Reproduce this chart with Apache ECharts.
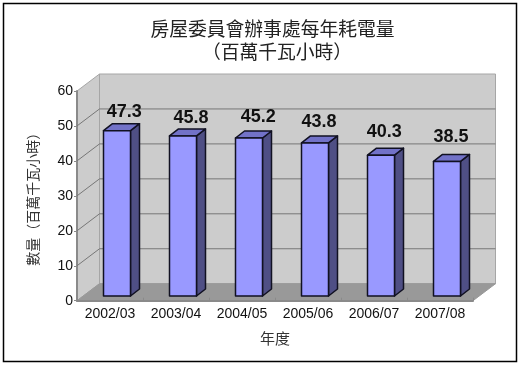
<!DOCTYPE html>
<html>
<head>
<meta charset="utf-8">
<title>房屋委員會辦事處每年耗電量</title>
<style>
html, body { margin: 0; padding: 0; background: #fff; }
#ct1 { width: 520px; height: 367px; }
</style>
<script src="https://cdn.jsdelivr.net/npm/echarts@6/dist/echarts.min.js"></script>
</head>
<body>
<div id="ct1"></div>
<script>
var years = ['2002/03', '2003/04', '2004/05', '2005/06', '2006/07', '2007/08'];
var usage = [47.3, 45.8, 45.2, 43.8, 40.3, 38.5];
var yTicks = [10, 20, 30, 40, 50];

var cjkFont = '"Noto Sans CJK TC", sans-serif';
var latinFont = '"Liberation Sans", Arial, sans-serif';

// 假3D的进深
var depthX = 22.5, depthY = -17;
// 柱子相对类目中心和地面前沿的位置
var barOffX = -6.5, barOffY = -4.7, barDepthX = 9, barDepthY = -7, barWidth = 27;
// 原图数值标签不是等距放的,逐个微调
var labelShiftX = [20.8, 21.5, 22.8, 17.5, 16.8, 17.5];
var labelLiftY = [2.4, 1.9, 4.7, 5.2, 7.4, 8.1];

function renderWall(params, api) {
    var p0 = api.coord([0, 0]);
    var p1 = api.coord([5, 60]);
    var bw = api.size([1, 0])[0];
    var left = p0[0] - bw / 2, right = p1[0] + bw / 2, bottom = p0[1], top = p1[1];
    var dx = depthX, dy = depthY;
    var wallStyle = { fill: '#cccccc', stroke: '#a6a6a6', lineWidth: 1 };
    return {
        type: 'group',
        children: [
            { type: 'polygon', shape: { points: [[left + dx, top + dy], [right + dx, top + dy], [right + dx, bottom + dy], [left + dx, bottom + dy]] }, style: wallStyle },
            { type: 'polygon', shape: { points: [[left, top], [left + dx, top + dy], [left + dx, bottom + dy], [left, bottom]] }, style: wallStyle },
            { type: 'polygon', shape: { points: [[left, bottom], [left + dx, bottom + dy], [right + dx, bottom + dy], [right, bottom]] }, style: { fill: '#999999', stroke: '#999999', lineWidth: 1 } }
        ]
    };
}

function renderGridLine(params, api) {
    var p = api.coord([0, api.value(0)]);
    var bw = api.size([1, 0])[0];
    var left = p[0] - bw / 2, right = api.coord([5, 0])[0] + bw / 2, y = p[1];
    return {
        type: 'polyline',
        shape: { points: [[left, y], [left + depthX, y + depthY], [right + depthX, y + depthY]] },
        style: { fill: null, stroke: '#777777', lineWidth: 1 }
    };
}

function renderBar(params, api) {
    var i = params.dataIndex;
    var p = api.coord([api.value(0), api.value(1)]);
    var base = api.coord([api.value(0), 0]);
    var x0 = p[0] + barOffX;
    var x1 = x0 + barWidth;
    var yTop = p[1] + barOffY, yBot = base[1] + barOffY;
    var line = { stroke: '#111122', lineWidth: 1.5, lineJoin: 'round' };
    return {
        type: 'group',
        children: [
            { type: 'polygon', shape: { points: [[x1, yTop], [x1 + barDepthX, yTop + barDepthY], [x1 + barDepthX, yBot + barDepthY], [x1, yBot]] }, style: Object.assign({ fill: '#4f4f85' }, line) },
            { type: 'polygon', shape: { points: [[x0, yTop], [x0 + barDepthX, yTop + barDepthY], [x1 + barDepthX, yTop + barDepthY], [x1, yTop]] }, style: Object.assign({ fill: '#7272c8' }, line) },
            { type: 'rect', shape: { x: x0, y: yTop, width: barWidth, height: yBot - yTop }, style: Object.assign({ fill: '#9999ff' }, line) },
            {
                type: 'text', x: x0 + labelShiftX[i], y: yTop + barDepthY - labelLiftY[i],
                style: { text: api.value(1).toFixed(1), font: 'bold 18px ' + latinFont, fill: '#111', textAlign: 'center', textVerticalAlign: 'bottom' }
            }
        ]
    };
}

var titleStyle = { fontFamily: cjkFont, fontSize: 18.8, fontWeight: 'normal', color: '#222' };

var option1 = {
    animation: false,
    backgroundColor: '#fff',
    title: [
        { text: '房屋委員會辦事處每年耗電量', left: 267.5, top: 14, textAlign: 'center', textStyle: titleStyle },
        { text: '\uFF08百萬千瓦小時\uFF09', left: 272, top: 37, textAlign: 'center', textStyle: titleStyle }
    ],
    grid: { left: 77, right: 47, top: 91, bottom: 66.3 },
    xAxis: {
        type: 'category',
        data: years,
        name: '年度',
        nameLocation: 'middle',
        nameGap: 30,
        nameTextStyle: { fontFamily: cjkFont, fontSize: 15, color: '#333' },
        axisTick: { show: true, alignWithLabel: false, length: -3, lineStyle: { color: '#8a8a8a' } },
        axisLine: { lineStyle: { color: '#8a8a8a', width: 2 } },
        axisLabel: { fontFamily: latinFont, fontSize: 14, color: '#111', margin: 6 }
    },
    yAxis: {
        type: 'value',
        min: 0,
        max: 60,
        interval: 10,
        name: '數量\uFF08百萬千瓦小時\uFF09',
        nameLocation: 'middle',
        nameGap: 37,
        nameTextStyle: { fontFamily: cjkFont, fontSize: 14, color: '#333' },
        splitLine: { show: false },
        axisTick: { show: true, length: 3, lineStyle: { color: '#8a8a8a' } },
        axisLine: { show: true, lineStyle: { color: '#8a8a8a', width: 2 } },
        axisLabel: { fontFamily: latinFont, fontSize: 14, color: '#111', margin: 4 }
    },
    graphic: [{
        type: 'rect',
        shape: { x: 3.5, y: 3.5, width: 513, height: 358 },
        style: { fill: 'none', stroke: '#000', lineWidth: 1.5 },
        z: 100
    }],
    series: [
        { type: 'custom', renderItem: renderWall, data: [0], encode: { x: 0 }, silent: true, clip: false, z: 0 },
        { type: 'custom', renderItem: renderGridLine, data: yTicks.map(function (t) { return [t]; }), encode: { y: 0 }, silent: true, clip: false, z: 1 },
        { type: 'custom', renderItem: renderBar, data: years.map(function (y, i) { return [i, usage[i]]; }), encode: { x: 0, y: 1 }, clip: false, z: 2 }
    ]
};

var myChart1;
function initMyChar1() {
    myChart1 = echarts.init(document.getElementById('ct1'), null, { renderer: 'canvas' });
    myChart1.setOption(option1, true);
    window.onresize = myChart1.resize;
}
initMyChar1();
</script>
</body>
</html>
